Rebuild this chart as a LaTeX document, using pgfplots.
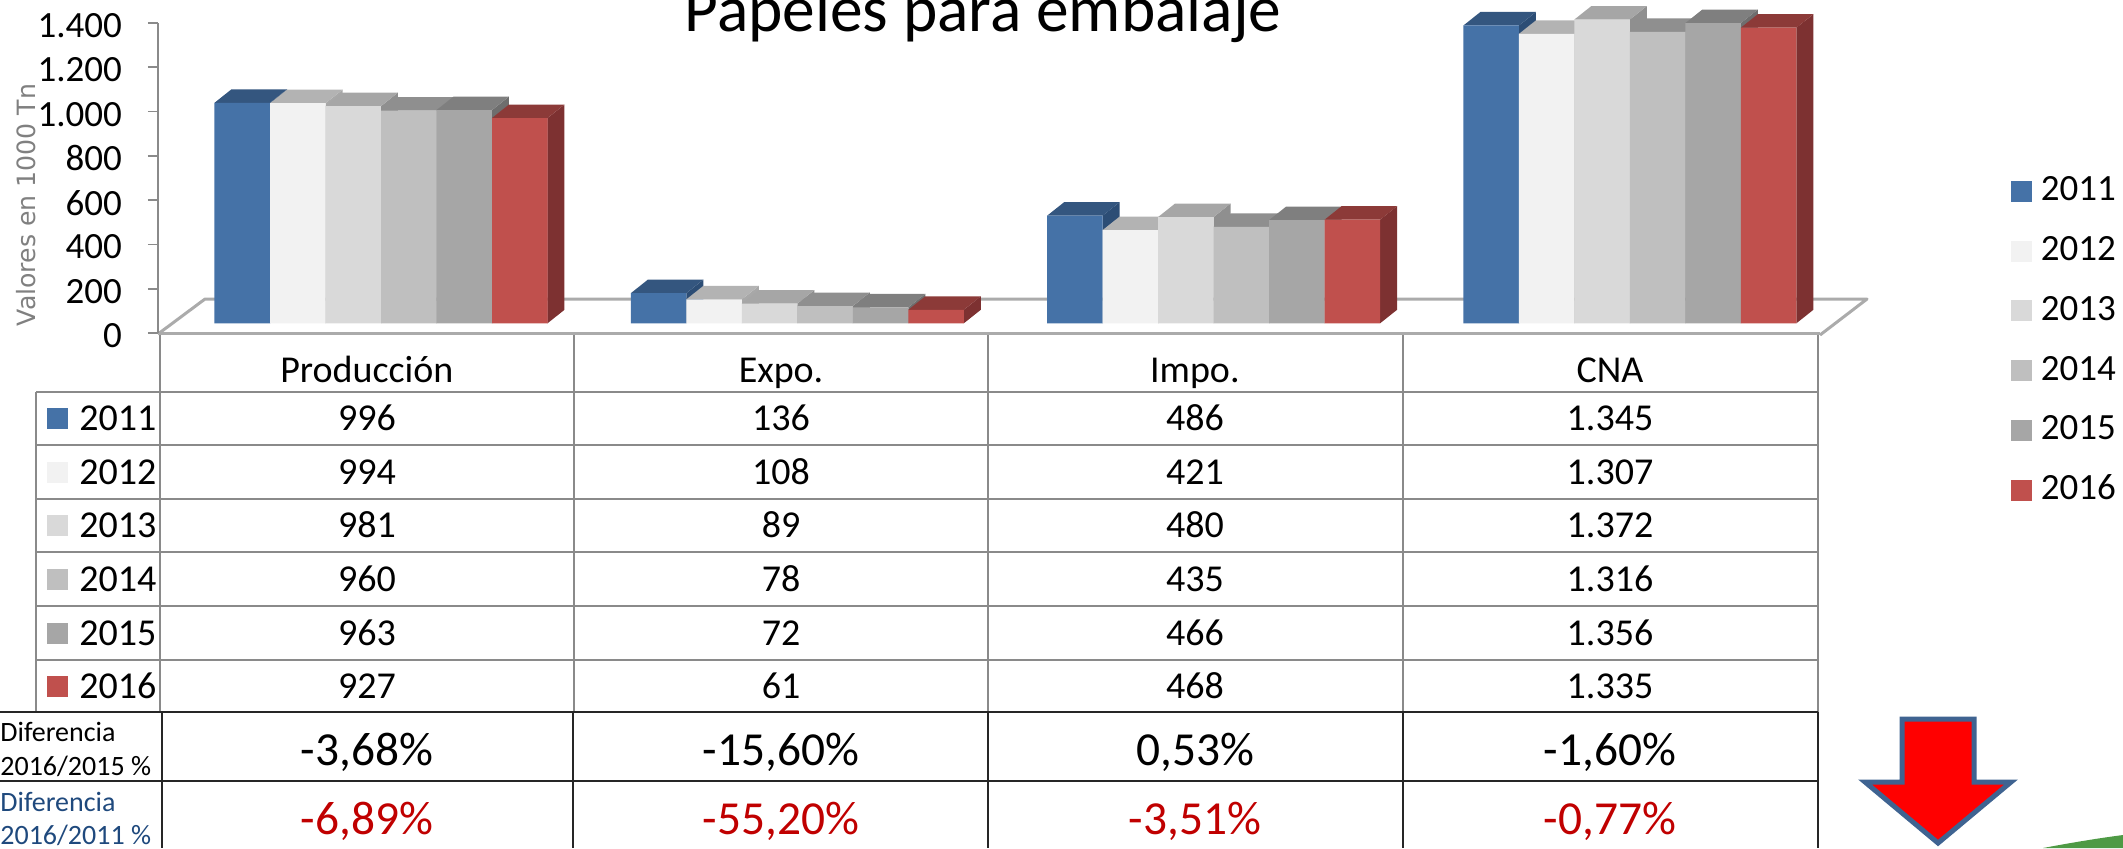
\documentclass[border=0pt]{standalone}
\usepackage{pgfplots}
\pgfplotsset{compat=1.18}
\usepackage{fontspec}
\setmainfont{Carlito}
\newfontfamily\dejavu{DejaVu Sans}
\definecolor{azulF}{HTML}{4572A7}\definecolor{azulT}{HTML}{34567F}\definecolor{azulS}{HTML}{2C4D75}
\definecolor{blancoF}{HTML}{F2F2F2}\definecolor{blancoT}{HTML}{B3B3B3}\definecolor{blancoS}{HTML}{A8A8A8}
\definecolor{clarF}{HTML}{D9D9D9}\definecolor{clarT}{HTML}{A6A6A6}\definecolor{clarS}{HTML}{8F8F8F}
\definecolor{medF}{HTML}{BFBFBF}\definecolor{medT}{HTML}{8F8F8F}\definecolor{medS}{HTML}{7F7F7F}
\definecolor{oscF}{HTML}{A6A6A6}\definecolor{oscT}{HTML}{7F7F7F}\definecolor{oscS}{HTML}{6E6E6E}
\definecolor{rojoF}{HTML}{C0504D}\definecolor{rojoT}{HTML}{8C3A38}\definecolor{rojoS}{HTML}{7D3131}
\definecolor{linea}{HTML}{8A8A8A}
\definecolor{suelo}{HTML}{ABABAB}
\definecolor{azultexto}{HTML}{1F497D}
\definecolor{rojotexto}{HTML}{C00000}
\definecolor{flecha}{HTML}{3F6391}
\definecolor{verde}{HTML}{4E9A45}
\def\bw{0.1333}  % bar width in group units
\def\dxx{0.0408} % depth of the 3D faces
\def\dyy{61}
% side and top faces of one bar: group, series, value, colour prefix
\newcommand{\caras}[4]{%
  \pgfmathsetmacro\xa{#1+(#2-3)*\bw}%
  \pgfmathsetmacro\xb{\xa+\bw}%
  \pgfmathsetmacro\xc{\xb+\dxx}%
  \pgfmathsetmacro\xd{\xa+\dxx}%
  \pgfmathsetmacro\yt{#3+\dyy}%
  \addplot[forget plot, fill=#4S, draw=none] coordinates {(\xb,0)(\xb,#3)(\xc,\yt)(\xc,\dyy)} -- cycle;
  \addplot[forget plot, fill=#4T, draw=none] coordinates {(\xa,#3)(\xb,#3)(\xc,\yt)(\xd,\yt)} -- cycle;
}
% one series: index, bar shift, year, colour prefix, four values
\newcommand{\serie}[8]{%
  \caras{0}{#1}{#5}{#4}\caras{1}{#1}{#6}{#4}\caras{2}{#1}{#7}{#4}\caras{3}{#1}{#8}{#4}%
  \addplot[ybar, bar width=27.75pt, bar shift=#2pt, fill=#4F, draw=none]
    coordinates {(0,#5)(1,#6)(2,#7)(3,#8)};
  \addlegendentry{#3}
}
\begin{document}
\begin{tikzpicture}
\fontsize{19}{21}\selectfont
\begin{scope}[x=0.5pt,y=-0.5pt]
  % floor of the 3D chart
  \draw[suelo, line width=1.5pt, line join=round] (158,334) -- (205,299) -- (1867,299) -- (1820,335);
  \node[font=\fontsize{32.7}{36}\selectfont, anchor=base] at (983,31) {Papeles para embalaje};
\end{scope}
\begin{axis}[
  at={(79pt,-166.5pt)}, anchor=south west,
  scale only axis, width=831pt, height=155pt,
  clip=false,
  xmin=-0.5357, xmax=3.4567, ymin=0, ymax=1400,
  axis y line*=left, axis x line*=bottom,
  axis line style={-, draw=linea, line width=0.9pt},
  x axis line style={draw=suelo, line width=1.5pt},
  xtick={-0.034,0.961,1.955,2.952},
  xticklabels={Producción,Expo.,Impo.,CNA},
  x tick style={draw=none},
  xticklabel style={font=\fontsize{19}{21}\selectfont, anchor=base, yshift=-19.5pt},
  ytick distance=200,
  y tick style={draw=linea, line width=0.8pt},
  tick align=outside, major tick length=5pt,
  scaled y ticks=false,
  yticklabel style={font=\fontsize{18.5}{20}\selectfont, xshift=-6.5pt, yshift=-1.3pt},
  /pgf/number format/.cd, 1000 sep={.}, assume math mode=true,
  /pgfplots/.cd,
  ylabel={Valores en 1000 Tn},
  ylabel style={font=\dejavu\fontsize{12.6}{14}\selectfont, text=black!50, at={(axis description cs:-0.0795,0.413)}, anchor=center},
  every axis plot/.append style={yshift=4.85pt},
  legend cell align=left,
  legend style={draw=none, fill=none, at={(1.1146,0.5066)}, anchor=north west,
    font=\fontsize{18.5}{20}\selectfont, row sep=17.3pt, inner sep=0pt,
    nodes={inner sep=0pt, text height=12pt, text depth=0pt},
    /tikz/every odd column/.append style={column sep=4.5pt}},
  legend image code/.code={\fill[#1] (0pt,-11.5pt) rectangle (10.5pt,-1pt);},
]
\serie{0}{-69.4}{2011}{azul}{996}{136}{486}{1345}
\serie{1}{-41.6}{2012}{blanco}{994}{108}{421}{1307}
\serie{2}{-13.9}{2013}{clar}{981}{89}{480}{1372}
\serie{3}{13.9}{2014}{med}{960}{78}{435}{1316}
\serie{4}{41.6}{2015}{osc}{963}{72}{466}{1356}
\serie{5}{69.4}{2016}{rojo}{927}{61}{468}{1335}
\end{axis}
\begin{scope}[x=0.5pt,y=-0.5pt]
  % data table
  \draw[linea, line width=1pt]
    (160,335) -- (160,712)
    (574,335) -- (574,712) (988,335) -- (988,712) (1403,335) -- (1403,712) (1818,335) -- (1818,712)
    (36,392) -- (36,712);
  \foreach \yy in {392,445,499,552,606,660}
    \draw[linea, line width=1pt] (36,\yy) -- (1818,\yy);
  \foreach \anio/\yy/\colr/\va/\vb/\vc/\vd in {
      2011/418/azulF/996/136/486/1.345,
      2012/472/blancoF/994/108/421/1.307,
      2013/525/clarF/981/89/480/1.372,
      2014/579/medF/960/78/435/1.316,
      2015/633/oscF/963/72/466/1.356,
      2016/686/rojoF/927/61/468/1.335}{
    \fill[\colr] (47,\yy-10.5) rectangle (68,\yy+10.5);
    \node[anchor=west, inner sep=0pt] at (79,\yy) {\anio};
    \node at (367,\yy) {\va};
    \node at (781,\yy) {\vb};
    \node at (1195,\yy) {\vc};
    \node at (1610,\yy) {\vd};
  }
  % difference rows
  \draw[black!85, line width=0.9pt]
    (0,712) -- (1818,712) (0,781) -- (1818,781)
    (162,712) -- (162,848) (573,712) -- (573,848) (988,712) -- (988,848)
    (1403,712) -- (1403,848) (1818,712) -- (1818,848);
  \node[anchor=west, inner sep=0pt, font=\fontsize{14}{16}\selectfont] at (0,732) {Diferencia};
  \node[anchor=west, inner sep=0pt, font=\fontsize{14}{16}\selectfont] at (0,766) {2016/2015 \%};
  \node[anchor=west, inner sep=0pt, text=azultexto, font=\fontsize{14}{16}\selectfont] at (0,802) {Diferencia};
  \node[anchor=west, inner sep=0pt, text=azultexto, font=\fontsize{14}{16}\selectfont] at (0,835) {2016/2011 \%};
  \foreach \xx/\pdif/\qdif in {367/{-3,68\%}/{-6,89\%}, 781/{-15,60\%}/{-55,20\%}, 1195/{0,53\%}/{-3,51\%}, 1610/{-1,60\%}/{-0,77\%}}{
    \node[font=\fontsize{23.7}{26}\selectfont] at (\xx,752) {\pdif};
    \node[font=\fontsize{23.7}{26}\selectfont, text=rojotexto] at (\xx,821) {\qdif};
  }
  % arrow and corner decoration
  \draw[flecha, fill=red, line width=2.5pt, miter limit=4]
    (1902,719) -- (1974,719) -- (1974,782) -- (2011,782) -- (1938,843) -- (1865,782) -- (1902,782) -- cycle;
  \fill[verde] (2043,848) .. controls (2075,842) and (2100,838) .. (2123,835) -- (2123,848) -- cycle;
\end{scope}
\pgfresetboundingbox
\useasboundingbox (0,0) rectangle (1061.5pt,-424pt);
\end{tikzpicture}
\end{document}
